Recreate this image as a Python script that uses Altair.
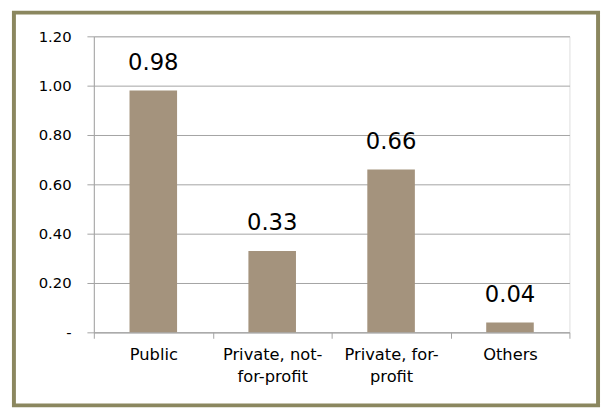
import altair as alt
import pandas as pd

categories = ["Public", "Private, not-for-profit", "Private, for-profit", "Others"]
values = [0.98, 0.33, 0.66, 0.04]
labels = ["0.98", "0.33", "0.66", "0.04"]

df = pd.DataFrame({"cat": categories, "val": values, "lbl": labels})

FONT = "DejaVu Sans"
GRID = "#A3A3A3"

x = alt.X(
    "cat:N",
    sort=categories,
    scale=alt.Scale(paddingInner=0, paddingOuter=0),
    axis=alt.Axis(
        title=None,
        labelAngle=0,
        tickBand="extent",
        domainColor=GRID,
        tickColor=GRID,
        tickSize=6,
        labelPadding=9,
        labelFont=FONT,
        labelFontSize=16.5,
        labelColor="#000000",
        labelLineHeight=22,
        labelExpr="datum.label == 'Private, not-for-profit' ? ['Private, not-', 'for-profit'] : datum.label == 'Private, for-profit' ? ['Private, for-', 'profit'] : datum.label",
    ),
)

y = alt.Y(
    "val:Q",
    scale=alt.Scale(domain=[0, 1.2], nice=False),
    axis=alt.Axis(
        title=None,
        values=[0, 0.2, 0.4, 0.6, 0.8, 1.0, 1.2],
        gridColor=GRID,
        domainColor=GRID,
        tickColor=GRID,
        tickSize=7,
        labelPadding=16,
        labelFont=FONT,
        labelFontSize=15,
        labelColor="#000000",
        labelExpr="datum.value == 0 ? '-\u00a0\u00a0' : format(datum.value, '.2f')",
    ),
)

base = alt.Chart(df)

bars = base.mark_bar(color="#A4937D", width={"band": 0.4}).encode(x=x, y=y)

text = base.mark_text(
    baseline="bottom", dy=-16, font=FONT, fontSize=23, color="#000000"
).encode(x=alt.X("cat:N", sort=categories), y="val:Q", text="lbl:N")

border = alt.Chart(pd.DataFrame({"b": [0]})).mark_rect(
    fill=None, fillOpacity=0, stroke="#8B875F", strokeWidth=4
).encode(
    x=alt.value(-81), x2=alt.value(511), y=alt.value(-24), y2=alt.value(374)
)

chart = alt.layer(bars, text, border).properties(
    width=482,
    height=300,
    autosize=alt.AutoSizeParams(type="none"),
    padding={"left": 87, "top": 26, "right": 33, "bottom": 76},
).configure_view(stroke=None).configure(background="#FFFFFF")

chart.save("out.html", embed_options={"renderer": "svg", "actions": False})
